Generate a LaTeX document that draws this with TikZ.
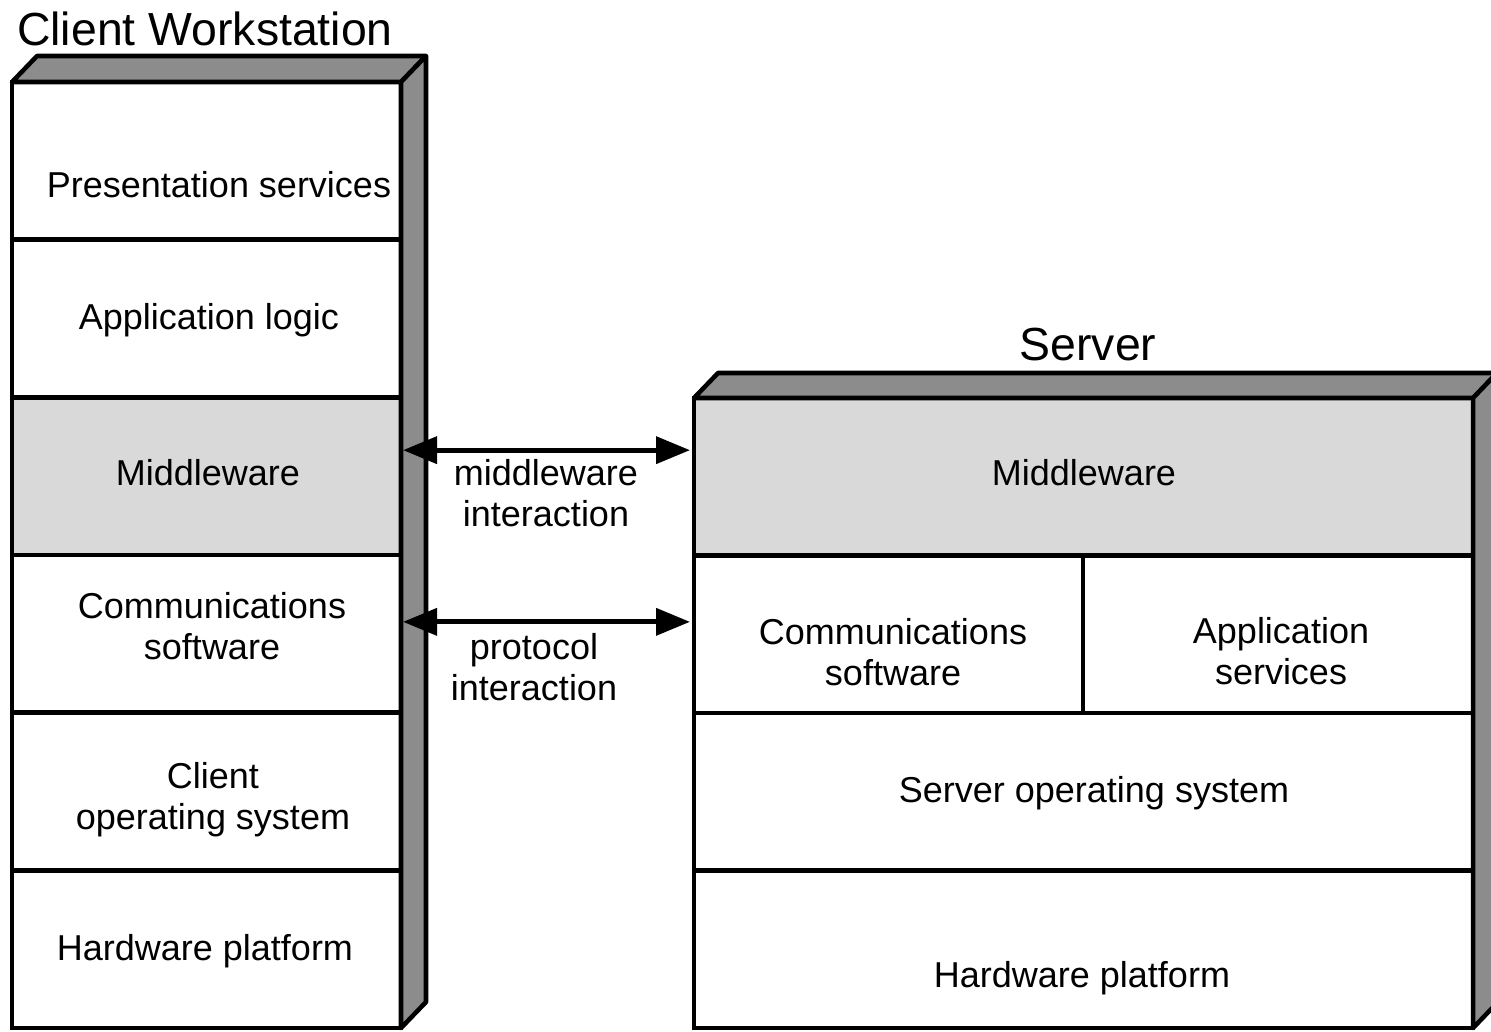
\documentclass[tikz,border=0pt]{standalone}
\usepackage{fontspec}
\setmainfont{Liberation Sans}
\usetikzlibrary{arrows.meta,calc}
\definecolor{facegray}{HTML}{8C8C8C}
\definecolor{mwgray}{HTML}{D9D9D9}

\begin{document}
\begin{tikzpicture}[x=0.75pt,y=-0.75pt,
  layer/.style={draw,line width=3.4pt,fill=white,outer sep=0pt,inner sep=0pt,
    minimum width=291.75pt,minimum height=118.25pt},
  slayer/.style={layer,minimum height=118.125pt},
  face/.style={draw,line width=3.4pt,fill=facegray,line join=round},
  txt/.style={font=\fontsize{27}{31}\selectfont,inner sep=0pt,align=center},
  title/.style={font=\fontsize{34.8}{40}\selectfont,inner sep=0pt,anchor=base},
  biarrow/.style={line width=3.6pt,
    {Triangle[length=25.5pt,width=20pt]}-{Triangle[length=25.5pt,width=20pt]}}]

\useasboundingbox (0,0) rectangle (1491,1031);

% ---- client workstation stack ----
\node[layer,anchor=north west] (cpres) at (12,82) {};
\node[layer,anchor=north] (capp) at (cpres.south) {};
\node[layer,anchor=north,fill=mwgray] (cmid) at (capp.south) {};
\node[layer,anchor=north] (ccom) at (cmid.south) {};
\node[layer,anchor=north] (cos) at (ccom.south) {};
\node[layer,anchor=north] (chw) at (cos.south) {};

% top and side faces
\path[face] (cpres.north west) -- ++(25,-26) -- ($(cpres.north east)+(25,-26)$)
  -- (cpres.north east) -- cycle;
\path[face] (cpres.north east) -- ++(25,-26) -- ($(chw.south east)+(25,-26)$)
  -- (chw.south east) -- cycle;

% ---- server stack ----
\node[slayer,anchor=north west,minimum width=584.25pt,fill=mwgray] (smid) at (694,398) {};
\node[slayer,anchor=north west] (scom) at (smid.south west) {};
\node[slayer,anchor=north west,minimum width=292.5pt] (sapp) at (scom.north east) {};
\node[slayer,anchor=north west,minimum width=584.25pt] (sos) at (scom.south west) {};
\node[slayer,anchor=north west,minimum width=584.25pt] (shw) at (sos.south west) {};

\path[face] (smid.north west) -- ++(24,-25) -- ($(smid.north east)+(24,-25)$)
  -- (smid.north east) -- cycle;
\path[face] (smid.north east) -- ++(24,-25) -- ($(shw.south east)+(24,-25)$)
  -- (shw.south east) -- cycle;

% ---- titles ----
\node[title] (tclient) at (205,46) {Client Workstation};
\node[title] (tserver) at (1088,360) {Server};

% ---- client labels ----
\node[txt,anchor=base] (tpres) at (219,197) {Presentation services};
\node[txt,anchor=base] (tapp) at (209,329) {Application logic};
\node[txt,anchor=base] (tcmid) at (208,485) {Middleware};
\node[txt] (tccom) at (212,626) {Communications\\software};
\node[txt] (tcos) at (213,800) {Client\\operating system};
\node[txt,anchor=base] (tchw) at (205,960) {Hardware platform};

% ---- server labels ----
\node[txt,anchor=base] (tsmid) at (1084,485) {Middleware};
\node[txt] (tscom) at (893,652) {Communications\\software};
\node[txt] (tsapp) at (1281,651) {Application\\services};
\node[txt,anchor=base] (tsos) at (1094,802) {Server operating system};
\node[txt,anchor=base] (tshw) at (1082,987) {Hardware platform};

% ---- interactions ----
\coordinate (mwL) at ($(cmid.north east)!0.335!(cmid.south east)$);
\coordinate (prL) at ($(ccom.north east)!0.424!(ccom.south east)$);
\draw[biarrow,shorten <=1.5pt,shorten >=3pt] (mwL) -- (mwL -| smid.west);
\draw[biarrow,shorten <=1.5pt,shorten >=3pt] (prL) -- (prL -| scom.west);
\node[txt] (tmw) at (546,493) {middleware\\interaction};
\node[txt] (tproto) at (534,667) {protocol\\interaction};
\end{tikzpicture}
\end{document}
